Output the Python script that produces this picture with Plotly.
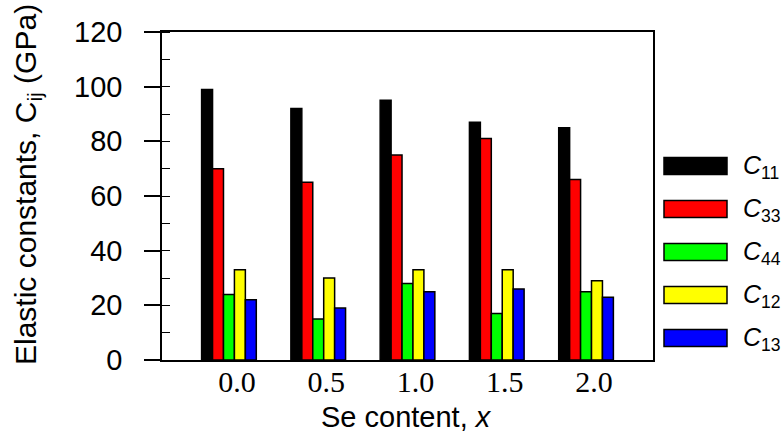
import plotly.graph_objects as go

# ---- data ----
categories = ["0.0", "0.5", "1.0", "1.5", "2.0"]
series_names = ["11", "33", "44", "12", "13"]
series_colors = ["#000000", "#FF0000", "#00FF00", "#FFFF00", "#0000FF"]
C11 = [99, 92, 95, 87, 85]
C33 = [70, 65, 75, 81, 66]
C44 = [24, 15, 28, 17, 25]
C12 = [33, 30, 33, 33, 29]
C13 = [22, 19, 25, 26, 23]
series_values = [C11, C33, C44, C12, C13]
y_ticks = [0, 20, 40, 60, 80, 100, 120]

W, H = 783, 439
L, R, T, B = 162, 653, 32, 360  # plot area in pixels

def px_x(p):
    return (p - L) / (R - L)

def px_y(p):
    return (B - p) / (B - T)

fig = go.Figure()
for name, color, vals in zip(series_names, series_colors, series_values):
    fig.add_trace(go.Bar(
        x=list(range(len(categories))), y=vals, name="C" + name,
        marker=dict(color=color, line=dict(color="black", width=1.5)),
        showlegend=False,
    ))

# manual legend
shapes = []
annotations = []
leg_y = [166, 209, 252, 295, 338]
for name, color, yc in zip(series_names, series_colors, leg_y):
    shapes.append(dict(type="rect", xref="paper", yref="paper",
                       x0=px_x(664), x1=px_x(727), y0=px_y(yc + 8.5), y1=px_y(yc - 8.5),
                       fillcolor=color, line=dict(color="black", width=1.5)))
    annotations.append(dict(xref="paper", yref="paper", x=px_x(741), y=px_y(yc + 1),
                            xanchor="left", yanchor="middle", showarrow=False,
                            text="<i>C</i><sub>" + name + "</sub>",
                            font=dict(family="Liberation Sans, Arial", size=25, color="black")))

# axis titles
annotations.append(dict(xref="paper", yref="paper", x=px_x(27), y=px_y(185),
                        xanchor="center", yanchor="middle", showarrow=False, textangle=-90,
                        text="Elastic constants, C<sub>ij</sub> (GPa)",
                        font=dict(family="Liberation Sans, Arial", size=30, color="black")))
annotations.append(dict(xref="paper", yref="paper", x=px_x(406), y=px_y(417),
                        xanchor="center", yanchor="middle", showarrow=False,
                        text="Se content, <i>x</i>",
                        font=dict(family="Liberation Sans, Arial", size=29, color="black")))

fig.update_layout(
    width=W, height=H,
    margin=dict(l=L, r=W - R, t=T, b=H - B, autoexpand=False),
    paper_bgcolor="white", plot_bgcolor="white",
    barmode="group", bargap=0.3875, bargroupgap=0,
    shapes=shapes, annotations=annotations,
    showlegend=False,
)
fig.update_xaxes(
    range=[-0.75, 4.75], tickmode="array",
    tickvals=list(range(len(categories))), ticktext=categories,
    showline=True, linecolor="black", linewidth=1.5, mirror=True,
    ticks="", showgrid=False, zeroline=False,
    tickfont=dict(family="Liberation Serif, Times New Roman", size=30, color="black"),
    ticklabelshift=8, ticklabelstandoff=-6,
)
fig.update_yaxes(
    range=[0, 120], tickmode="array", tickvals=y_ticks,
    showline=True, linecolor="black", linewidth=1.5, mirror=True,
    ticks="outside", ticklen=16, tickwidth=2, tickcolor="black",
    minor=dict(ticks="inside", dtick=10, ticklen=8, tickwidth=1.2, tickcolor="black", showgrid=False),
    showgrid=False, zeroline=False,
    tickfont=dict(family="Liberation Sans, Arial", size=29, color="black"),
    ticklabelstandoff=16,
)

fig.write_html("out.html")
